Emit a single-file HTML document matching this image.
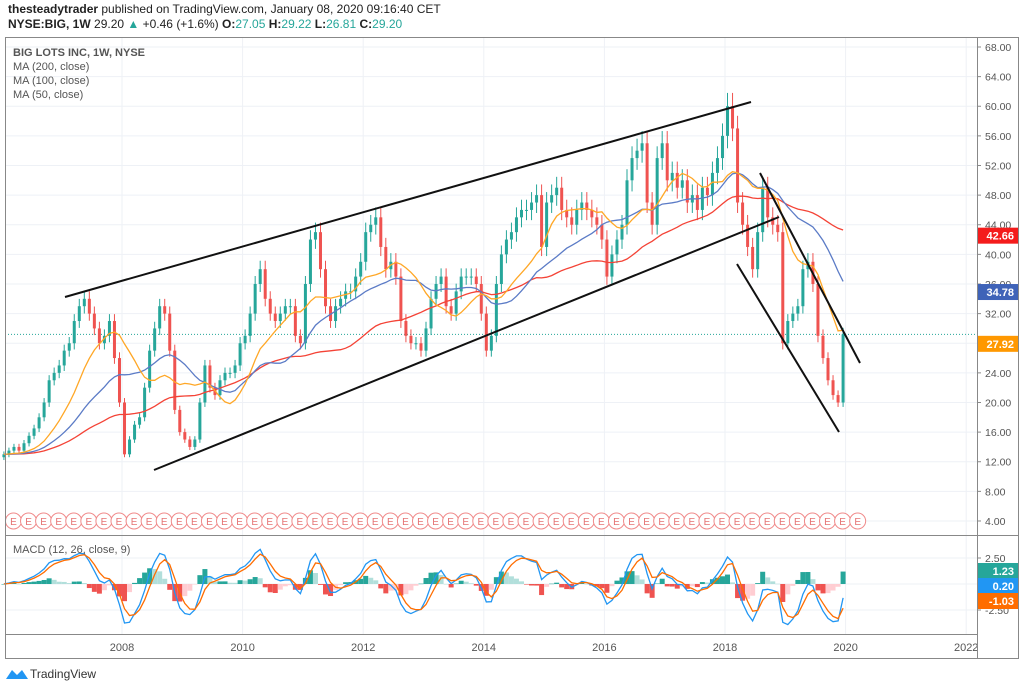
<!DOCTYPE html>
<html><head><meta charset="utf-8"><style>
body{margin:0;background:#fff;font-family:"Liberation Sans",sans-serif}
svg{display:block}
text{font-family:"Liberation Sans",sans-serif}
</style></head><body>
<svg id="chart" width="1024" height="689" viewBox="0 0 1024 689">
<rect x="0" y="0" width="1024" height="689" fill="#fff"/>
<text x="8" y="13" font-size="12" fill="#222"><tspan font-weight="bold">thesteadytrader</tspan> published on TradingView.com, January 08, 2020 09:16:40 CET</text>
<text x="8" y="28" font-size="12" fill="#222"><tspan font-weight="bold">NYSE:BIG, 1W</tspan> 29.20 <tspan fill="#26a69a">▲</tspan> +0.46 (+1.6%) <tspan font-weight="bold">O:</tspan><tspan fill="#26a69a">27.05</tspan> <tspan font-weight="bold">H:</tspan><tspan fill="#26a69a">29.22</tspan> <tspan font-weight="bold">L:</tspan><tspan fill="#26a69a">26.81</tspan> <tspan font-weight="bold">C:</tspan><tspan fill="#26a69a">29.20</tspan></text>
<g id="grid"></g>
<g id="plot"></g>
<g id="macd"></g>
<g id="frame">
<rect x="5.5" y="37.5" width="1013" height="621" fill="none" stroke="#888"/>
<line x1="977.5" y1="37" x2="977.5" y2="658" stroke="#888"/>
<line x1="5" y1="535.5" x2="1018" y2="535.5" stroke="#888"/>
<line x1="5" y1="634.5" x2="977" y2="634.5" stroke="#888"/>
</g>
<g id="legend" font-size="11" fill="#555">
<text x="13" y="56" font-weight="bold">BIG LOTS INC, 1W, NYSE</text>
<text x="13" y="70">MA (200, close)</text>
<text x="13" y="84">MA (100, close)</text>
<text x="13" y="98">MA (50, close)</text>
<text x="13" y="553">MACD (12, 26, close, 9)</text>
</g>
<g>
<path d="M6 679 L12 670 L17 675 L22 670 L28 679 Z" fill="#2196f3"/>
<text x="30" y="678" font-size="12" fill="#333">TradingView</text>
</g>
</svg>
<script>
const startYear = 2006;
const closes = [
13,13.5,14,13.5,14.5,15.5,16.5,18,20,23,24,25,
27,28,31,33,34,32,30,28,29,31,26,20,
13,15,17,18,22,27,30,33,32,27,19,16,
15,14,15,20,25,22,21,23,24,24,25,28,
29,32,36,38,34,32,31,32,33,33,29,28,
36,42,43,38,33,31,33,34,35,35,37,39,
43,44,45,41,38,39,37,31,29,28,28,27,
30,34,36,37,33,32,35,37,37,37,36,32,
27,29,36,40,42,43,45,46,46,47,48,41,
47,48,49,46,45,44,46,47,46,45,44,42,
37,40,42,44,50,53,54,55,47,44,53,55,
50,51,49,50,47,48,46,49,48,51,53,56,
60,57,47,44,41,38,43,49,45,44,43,28,
31,32,33,38,39,36,29,26,23,21,20,29.2];
const priceTicks = [68,64,60,56,52,48,44,40,36,32,28,24,20,16,12,8,4];
const yearTicks = [2008,2010,2012,2014,2016,2018,2020,2022];
const macdTicks = [2.5,0,-2.5];
const maLabels = [42.66,34.78,27.92];
const macdLabels = [1.23,0.20,-1.03];
const lastPrice = 29.2;
const priorLevel = 13;

const NS='http://www.w3.org/2000/svg';
function mk(tag,attrs,parent){const e=document.createElementNS(NS,tag);for(const k in attrs)e.setAttribute(k,attrs[k]);parent.appendChild(e);return e;}
const xOf=y=>122+(y-2008)*60.3;
const yP=p=>47+(68-p)*7.406;
const yM=v=>584-v*10.4;
const tOf=i=>startYear+i/12+1/24;
const grid=document.getElementById('grid'),plot=document.getElementById('plot'),macdG=document.getElementById('macd'),svg=document.getElementById('chart');

priceTicks.forEach(p=>{
 const l=mk('line',{x1:5,x2:977,y1:yP(p),y2:yP(p),stroke:'#eef1f6'},grid);
 
 
 mk('line',{x1:977,x2:981,y1:yP(p),y2:yP(p),stroke:'#888'},grid);
 const t=mk('text',{x:985,y:yP(p)+4,'font-size':10.5,fill:'#555'},grid);t.textContent=p.toFixed(2);
 
 
});
yearTicks.forEach(y=>{
 const l=mk('line',{x1:xOf(y),x2:xOf(y),y1:37,y2:634,stroke:'#eef1f6'},grid);
 
 
 const t=mk('text',{x:xOf(y),y:651,'font-size':11,fill:'#555','text-anchor':'middle'},grid);t.textContent=y;
 
 
});
macdTicks.forEach(v=>{
 mk('line',{x1:5,x2:977,y1:yM(v),y2:yM(v),stroke:'#eef1f6'},grid);
 mk('line',{x1:977,x2:981,y1:yM(v),y2:yM(v),stroke:'#888'},grid);
 const t=mk('text',{x:985,y:yM(v)+4,'font-size':10.5,fill:'#555'},grid);t.textContent=v.toFixed(2);
 
 
});

const cl=mk('line',{x1:5,x2:977,y1:yP(lastPrice),y2:yP(lastPrice),stroke:'#26a69a','stroke-dasharray':'1 2'},plot);



closes.forEach((c,i)=>{
 const o=i?closes[i-1]:c*0.97;const x=xOf(tOf(i));
 const up=c>=o;const col=up?'#26a69a':'#ef5350';
 const hi=Math.max(o,c)*1.03,lo=Math.min(o,c)*0.97;
 const g=mk('g',{},plot);
 
 
 mk('line',{x1:x,x2:x,y1:yP(hi),y2:yP(lo),stroke:col,'stroke-width':1},g);
 mk('rect',{x:x-1.5,y:yP(Math.max(o,c)),width:3,height:Math.max(1,Math.abs(yP(o)-yP(c))),fill:col},g);
});

// moving averages, with window padded by the pre-chart price level
function sma(n){return closes.map((_,i)=>{let t=0;for(let k=i-n+1;k<=i;k++)t+=(k<0?priorLevel:closes[k]);return t/n;});}
[[46,'#f44336','ma-200'],[23,'#5b7bc6','ma-100'],[12,'#ffa726','ma-50']].forEach(([n,col,name])=>{
 const v=sma(n);const d=v.map((p,i)=>(i?'L':'M')+xOf(tOf(i)).toFixed(1)+' '+yP(p).toFixed(1)).join(' ');
 const p=mk('path',{d,fill:'none',stroke:col,'stroke-width':1.3},plot);
 
 
});

[[65,297,751,102,'upper-channel-line'],[154,470,779,217,'lower-channel-line'],[760,173,860,363,'falling-upper-line'],[737,264,839,432,'falling-lower-line']].forEach(([a,b,c,d,n])=>{
 const l=mk('line',{x1:a,y1:b,x2:c,y2:d,stroke:'#111','stroke-width':2},plot);
 
 
});

for(let y=2006.2;y<=2020.21;y+=0.25){
 const g=mk('g',{},plot);
 
 
 mk('circle',{cx:xOf(y),cy:521,r:8,fill:'#fff',stroke:'#f08a8a','stroke-width':1},g);
 const t=mk('text',{x:xOf(y),y:525,'font-size':10,fill:'#e57373','text-anchor':'middle'},g);t.textContent='E';
}

function ema(arr,n){const a=2/(n+1);let e=arr[0];return arr.map(v=>e=e+a*(v-e));}
const e1=ema(closes,3.5),e2=ema(closes,7);
const macd=e1.map((v,i)=>v-e2[i]);const sig=ema(macd,3);
macd.forEach((m,i)=>{
 const h=m-sig[i];const prev=i?macd[i-1]-sig[i-1]:0;
 let col=h>=0?(h>=prev?'#26a69a':'#b2dfdb'):(h<prev?'#ef5350':'#ffcdd2');
 const x=xOf(tOf(i));const y0=yM(0),y1=yM(h*1.2);
 const r=mk('rect',{x:x-2.5,y:Math.min(y0,y1),width:5,height:Math.max(0.5,Math.abs(y1-y0)),fill:col},macdG);
 
 
});
[[macd,'#2196f3','macd-line'],[sig,'#ff6d00','signal-line']].forEach(([arr,col,n])=>{
 const d=arr.map((v,i)=>(i?'L':'M')+xOf(tOf(i)).toFixed(1)+' '+Math.max(540,Math.min(632,yM(v))).toFixed(1)).join(' ');
 const p=mk('path',{d,fill:'none',stroke:col,'stroke-width':1.3},macdG);
 
 
});

function badge(y,txt,col,name){
 const g=mk('g',{},svg);
 
 
 mk('rect',{x:978,y:y-8,width:40,height:16,fill:col},g);
 const t=mk('text',{x:1014,y:y+4,'font-size':11,fill:'#fff','text-anchor':'end','font-weight':'bold'},g);t.textContent=txt;
}
badge(yP(maLabels[0])+1,maLabels[0].toFixed(2),'#f41c1c','ma200-value-label');
badge(yP(maLabels[1])-1,maLabels[1].toFixed(2),'#3f63b8','ma100-value-label');
badge(yP(maLabels[2]),maLabels[2].toFixed(2),'#ff9800','ma50-value-label');
badge(571,macdLabels[0].toFixed(2),'#26a69a','histogram-value-label');
badge(586,macdLabels[1].toFixed(2),'#2196f3','macd-value-label');
badge(601,macdLabels[2].toFixed(2),'#ff6d00','signal-value-label');
</script>
</body></html>
